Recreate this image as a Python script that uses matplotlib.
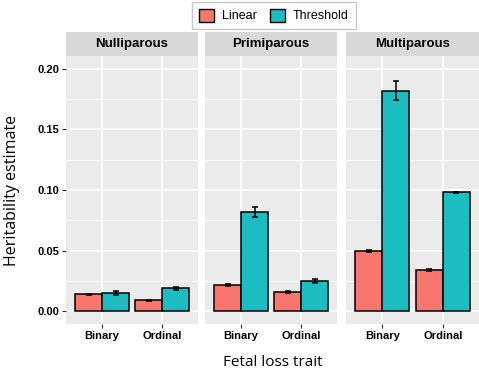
import numpy as np
import matplotlib.pyplot as plt
from matplotlib.patches import Patch

parity = ["Nulliparous", "Primiparous", "Multiparous"]
traits = ["Binary", "Ordinal"]
linear_h2 = [[0.014, 0.009], [0.022, 0.016], [0.050, 0.034]]
linear_se = [[0.0006, 0.0004], [0.0008, 0.0007], [0.0008, 0.0009]]
threshold_h2 = [[0.015, 0.019], [0.082, 0.025], [0.182, 0.098]]
threshold_se = [[0.0015, 0.0012], [0.0042, 0.0015], [0.0078, 0.0007]]

col_lin = "#F8766D"
col_thr = "#1CBDC2"
panel_bg = "#EBEBEB"
strip_bg = "#D9D9D9"

fig = plt.figure(figsize=(4.79, 3.69), dpi=100)
W, H = 479.0, 369.0
panels_x = [(66, 198), (205, 337), (346, 479)]
top, bottom = 56, 324
strip_top = 32

x = np.arange(1, len(traits) + 1)
bw = 0.45
for i, (x0, x1) in enumerate(panels_x):
    ax = fig.add_axes([x0 / W, 1 - bottom / H, (x1 - x0) / W, (bottom - top) / H])
    ax.set_facecolor(panel_bg)
    ax.set_xlim(0.4, 2.6)
    ax.set_ylim(-0.0105, 0.2105)
    ax.set_yticks([0, 0.05, 0.10, 0.15, 0.20])
    ax.set_yticks([0.025, 0.075, 0.125, 0.175], minor=True)
    ax.grid(True, which="major", color="white", lw=1.1)
    ax.grid(True, which="minor", axis="y", color="white", lw=0.55)
    ax.set_axisbelow(True)
    for s in ax.spines.values():
        s.set_visible(False)
    ax.bar(x - bw / 2, linear_h2[i], width=bw, color=col_lin, edgecolor="black", lw=1.1,
           yerr=linear_se[i], error_kw=dict(ecolor="black", elinewidth=1.1, capsize=2.5, capthick=1.1))
    ax.bar(x + bw / 2, threshold_h2[i], width=bw, color=col_thr, edgecolor="black", lw=1.1,
           yerr=threshold_se[i], error_kw=dict(ecolor="black", elinewidth=1.1, capsize=2.5, capthick=1.1))
    ax.set_xticks(x)
    ax.set_xticklabels(traits, fontsize=8, fontweight="bold", family="Liberation Sans")
    ax.tick_params(axis="x", length=3, color="#333333", pad=2)
    ax.tick_params(axis="y", which="minor", length=0)
    if i == 0:
        ax.set_yticklabels(["0.00", "0.05", "0.10", "0.15", "0.20"], fontsize=8,
                           fontweight="bold", family="Liberation Sans")
        ax.tick_params(axis="y", length=3, color="#333333", pad=2)
    else:
        ax.tick_params(axis="y", length=0, labelleft=False)

    # facet strip
    sax = fig.add_axes([x0 / W, 1 - top / H, (x1 - x0) / W, (top - strip_top) / H])
    sax.set_facecolor(strip_bg)
    sax.set_xticks([])
    sax.set_yticks([])
    for s in sax.spines.values():
        s.set_visible(False)
    sax.text(0.5, 0.5, parity[i], ha="center", va="center", fontsize=9.5,
             fontweight="bold", family="Liberation Sans", transform=sax.transAxes)

fig.text(12 / W, 1 - 190 / H, "Heritability estimate", rotation=90, ha="center", va="center",
         fontsize=11.5, family="Open Sans")
fig.text(273 / W, 1 - 362 / H, "Fetal loss trait", ha="center", va="center",
         fontsize=11, family="Open Sans")

handles = [Patch(facecolor=col_lin, edgecolor="black", label="Linear"),
           Patch(facecolor=col_thr, edgecolor="black", label="Threshold")]
fig.legend(handles=handles, loc="center", bbox_to_anchor=(274 / W, 1 - 15.5 / H), ncol=2,
           frameon=True, fancybox=False, edgecolor="#BBBBBB",
           prop={"family": "Liberation Sans", "size": 9},
           handlelength=1.2, handleheight=1.2, columnspacing=1.1, handletextpad=0.6,
           borderpad=0.55)

fig.savefig("out.png", dpi=100)
